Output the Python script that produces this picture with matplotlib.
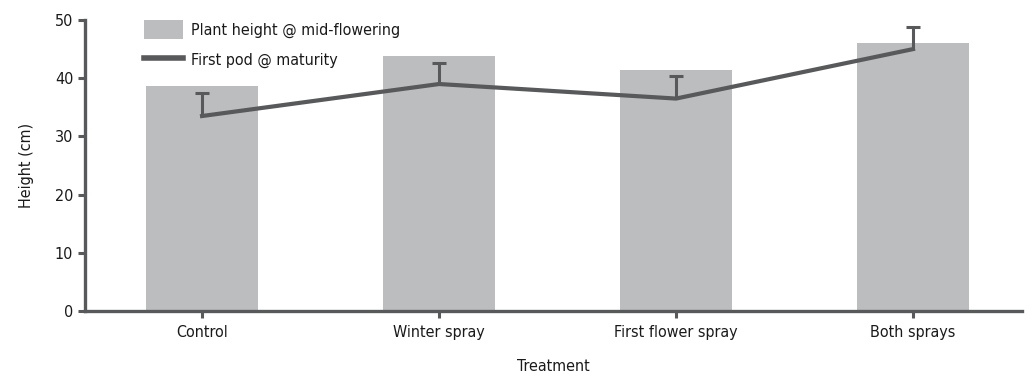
import matplotlib
matplotlib.use("Agg")
import matplotlib.pyplot as plt
import numpy as np
from matplotlib.patches import Patch
from matplotlib.lines import Line2D

categories = ["Control", "Winter spray", "First flower spray", "Both sprays"]
plant_height = [38.7, 43.8, 41.4, 46.1]
first_pod = [33.5, 39.0, 36.5, 45.0]
first_pod_err = [3.9, 3.6, 3.9, 3.8]
yticks = [0, 10, 20, 30, 40, 50]

plt.rcParams['font.family'] = ['DejaVu Sans']
plt.rcParams['font.stretch'] = 'condensed'

bar_c = "#bcbdbf"
line_c = "#58595b"
text_c = "#1a1a1a"
fs = 11.5

fig = plt.figure(figsize=(10.34, 3.84), dpi=100)
ax = fig.add_axes([85/1034, 1-311/384, (1022-85)/1034, (311-20)/384])
x = np.arange(len(categories))
ax.bar(x, plant_height, width=0.47, color=bar_c, zorder=1)
ax.plot(x, first_pod, color=line_c, lw=3, zorder=3, solid_joinstyle='round')
_, caps, _ = ax.errorbar(x, first_pod, yerr=[np.zeros(len(x)), first_pod_err], fmt='none',
                         ecolor=line_c, elinewidth=2.2, capsize=5, capthick=2.2, zorder=3)
if len(caps) > 1:
    caps[0].set_visible(False)

ax.set_xlim(-0.494, 3.46)
ax.set_ylim(0, 50)
ax.set_yticks(yticks)
ax.set_xticks(x)
ax.set_xticklabels(categories)
for s in ["top", "right"]:
    ax.spines[s].set_visible(False)
for s in ["left", "bottom"]:
    ax.spines[s].set_color(line_c)
    ax.spines[s].set_linewidth(2.4)
ax.tick_params(axis='both', colors=line_c, width=2.2, length=5, labelcolor=text_c, labelsize=fs)
ax.tick_params(axis='x', pad=5)
ax.set_ylabel("Height (cm)", fontsize=fs, color=text_c, labelpad=15)
ax.set_xlabel("Treatment", fontsize=fs, color=text_c, labelpad=14)

handles = [Patch(facecolor=bar_c, edgecolor='none'), Line2D([0], [0], color=line_c, lw=4)]
labels = ["Plant height @ mid-flowering", "First pod @ maturity"]
leg = ax.legend(handles, labels, loc="upper left", bbox_to_anchor=(0.048, 1.048), frameon=False,
                fontsize=fs, handlelength=2.4, handleheight=1.4, labelspacing=0.72, handletextpad=0.5)
for t in leg.get_texts():
    t.set_color(text_c)

fig.savefig("out.png", dpi=100)
